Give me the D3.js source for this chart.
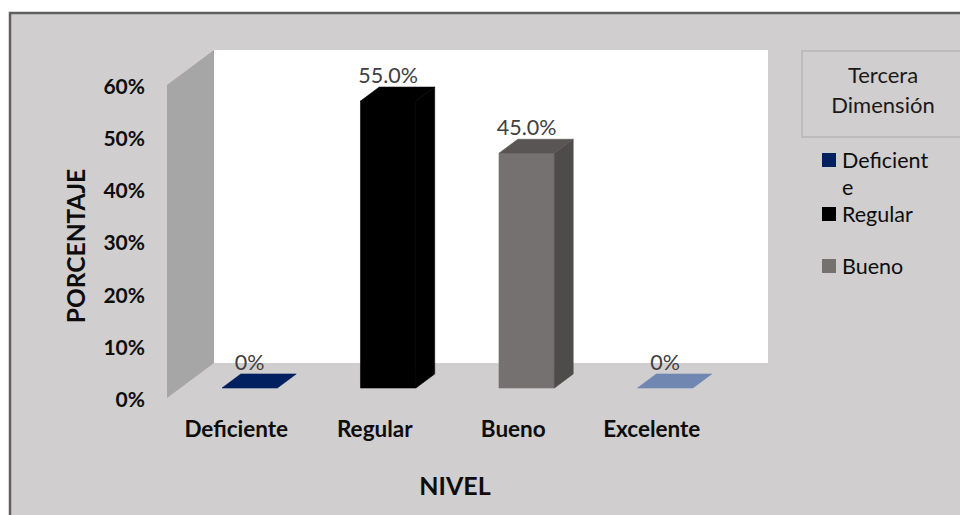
<!DOCTYPE html>
<html>
<head>
<meta charset="utf-8">
<script src="https://cdn.jsdelivr.net/npm/d3@7"></script>
<style>
  html, body { margin: 0; padding: 0; background: #ffffff; }
  svg { display: block; font-family: Lato, "Noto Sans", sans-serif; }
</style>
</head>
<body>
<svg id="chart" width="960" height="515"></svg>
<script>
// Chart data
const categories = ["Deficiente", "Regular", "Bueno", "Excelente"];
const values = [0, 0.55, 0.45, 0];
const barColors = ["#002060", "#000000", "#767171", "#6f87b1"];
const yTicks = [0, 0.1, 0.2, 0.3, 0.4, 0.5, 0.6];
const legendTitle = ["Tercera", "Dimensión"];
const legendItems = [["Deficient", "e"], ["Regular"], ["Bueno"]];
const legendColors = ["#002060", "#000000", "#767171"];
const yTitle = "PORCENTAJE";
const xTitle = "NIVEL";

const svg = d3.select("#chart");

// chart area background and frame
svg.append("rect")
  .attr("x", 10).attr("y", 13).attr("width", 960).attr("height", 520)
  .attr("fill", "#d0cecf").attr("stroke", "#5f5f5f").attr("stroke-width", 2.5);

// front plane scales; the 3D depth is a fixed oblique offset
const x = d3.scaleBand().domain(categories).range([167, 721]);
const y = d3.scaleLinear().domain([0, 0.6]).range([398, 85]);
const depth = { dx: 47, dy: -35 };
const barFront = 0.286, barBack = 0.686;   // depth fractions of each bar box

const yMax = yTicks[yTicks.length - 1];

// back wall
svg.append("rect")
  .attr("x", x.range()[0] + depth.dx)
  .attr("y", y(yMax) + depth.dy)
  .attr("width", x.range()[1] - x.range()[0])
  .attr("height", y(0) - y(yMax))
  .attr("fill", "#ffffff");

// side wall
const sx = x.range()[0];
svg.append("path")
  .attr("d", d3.line()([
    [sx, y(0)], [sx, y(yMax)],
    [sx + depth.dx, y(yMax) + depth.dy], [sx + depth.dx, y(0) + depth.dy]
  ]))
  .attr("fill", "#a6a6a6");

// bars as oblique boxes
const bw = x.bandwidth() * 0.4;
const fdx = depth.dx * barFront, fdy = depth.dy * barFront;
const ddx = depth.dx * (barBack - barFront), ddy = depth.dy * (barBack - barFront);

const bars = svg.append("g").selectAll("g")
  .data(categories.map((c, i) => ({ c, v: values[i], color: barColors[i] })))
  .join("g");

function face(g, pts, fill) {
  g.append("path")
    .attr("d", d3.line()(pts) + "Z")
    .attr("fill", fill).attr("stroke", fill).attr("stroke-width", 0.6)
    .attr("stroke-linejoin", "round");
}

bars.each(function (d) {
  const g = d3.select(this);
  const x0 = x(d.c) + (x.bandwidth() - bw) / 2 + fdx;
  const x1 = x0 + bw;
  const yb = y(0) + fdy;
  const yt = y(d.v) + fdy;
  const base = d3.color(d.color);
  if (d.v > 0) {
    face(g, [[x0, yb], [x0, yt], [x1, yt], [x1, yb]], base.formatHex());
    face(g, [[x1, yb], [x1, yt], [x1 + ddx, yt + ddy], [x1 + ddx, yb + ddy]], base.darker(1.15).formatHex());
  }
  face(g, [[x0, yt], [x1, yt], [x1 + ddx, yt + ddy], [x0 + ddx, yt + ddy]],
    d.v > 0 ? base.darker(0.8).formatHex() : base.formatHex());
  // value label
  g.append("text")
    .attr("x", (x0 + x1) / 2)
    .attr("y", yt + ddy - 4)
    .attr("text-anchor", "middle")
    .attr("font-size", 21.5)
    .attr("fill", "#404040")
    .text(d.v === 0 ? "0%" : d3.format(".1%")(d.v));
});

// y axis
const yAxis = svg.append("g")
  .attr("transform", `translate(${x.range()[0]},0)`)
  .call(d3.axisLeft(y).tickValues(yTicks).tickFormat(d3.format(".0%")).tickSize(0).tickPadding(22));
yAxis.select(".domain").remove();
yAxis.selectAll("text")
  .attr("font-family", "Lato, 'Noto Sans', sans-serif")
  .attr("font-size", 21).attr("font-weight", "bold").attr("fill", "#0d0d0d")
  .attr("dy", "0.4em");

// x axis
const xAxis = svg.append("g")
  .attr("transform", `translate(0,${y(0)})`)
  .call(d3.axisBottom(x).tickSize(0).tickPadding(23));
xAxis.select(".domain").remove();
xAxis.selectAll("text")
  .attr("font-family", "Lato, 'Noto Sans', sans-serif")
  .attr("font-size", 22.5).attr("font-weight", "bold").attr("fill", "#0d0d0d");

// axis titles
svg.append("text")
  .attr("transform", "translate(85,246) rotate(-90)")
  .attr("text-anchor", "middle")
  .attr("font-size", 24.5).attr("font-weight", "bold").attr("fill", "#0d0d0d")
  .text(yTitle);

svg.append("text")
  .attr("x", 455).attr("y", 495)
  .attr("text-anchor", "middle")
  .attr("font-size", 25).attr("font-weight", "bold").attr("fill", "#0d0d0d")
  .text(xTitle);

// legend
const legend = svg.append("g");
legend.append("rect")
  .attr("x", 802).attr("y", 51).attr("width", 162).attr("height", 86)
  .attr("fill", "none").attr("stroke", "#bdbbbc").attr("stroke-width", 2);
legend.append("text")
  .attr("text-anchor", "middle").attr("font-size", 22).attr("fill", "#1a1a1a")
  .selectAll("tspan").data(legendTitle).join("tspan")
  .attr("x", 883).attr("y", (d, i) => 83 + i * 30)
  .text(d => d);

const itemY = [167, 221, 273];
legendItems.forEach((lines, i) => {
  legend.append("rect")
    .attr("x", 822).attr("y", itemY[i] - 14).attr("width", 14).attr("height", 14)
    .attr("fill", legendColors[i]);
  legend.append("text")
    .attr("font-size", 21.5).attr("fill", "#0d0d0d")
    .selectAll("tspan").data(lines).join("tspan")
    .attr("x", 842).attr("y", (d, k) => itemY[i] + 1 + k * 27)
    .text(d => d);
});
</script>
</body>
</html>
